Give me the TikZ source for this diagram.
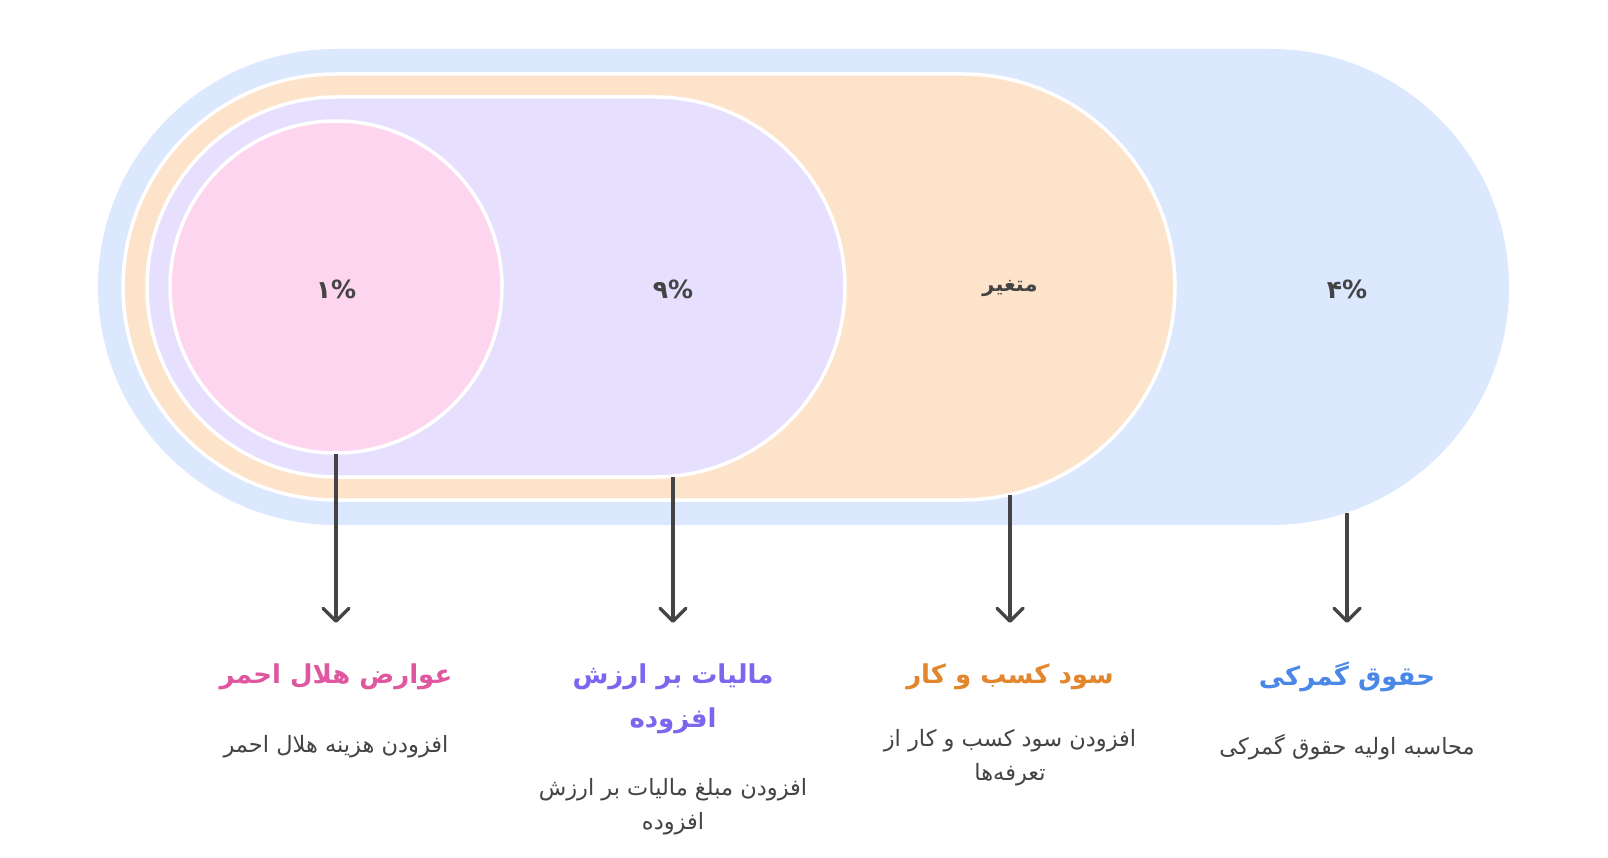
\documentclass[tikz,border=0pt]{standalone}
\usepackage{fontspec}
\usetikzlibrary{arrows.meta}
\TeXXeTstate=1
\newfontfamily\fa[Script=Arabic]{DejaVu Sans}
\definecolor{bluefill}{HTML}{DCE8FE}
\definecolor{orangefill}{HTML}{FEE3CB}
\definecolor{purplefill}{HTML}{E6DFFE}
\definecolor{pinkfill}{HTML}{FED5EE}
\definecolor{pinkT}{HTML}{E0579F}
\definecolor{purpleT}{HTML}{7B66EE}
\definecolor{orangeT}{HTML}{E3872E}
\definecolor{blueT}{HTML}{4A88E8}
\definecolor{darkT}{HTML}{444444}
\begin{document}
\begin{tikzpicture}[x=1pt,y=-1pt,
  shapeborder/.style={draw=white,line width=3.5pt},
  pct/.style={text=darkT,font=\fa\bfseries\fontsize{25}{30}\selectfont,inner sep=0pt},
  wordlbl/.style={text=darkT,font=\fa\bfseries\fontsize{21}{25}\selectfont,inner sep=0pt},
  ttl/.style={font=\fa\bfseries\fontsize{26}{44}\selectfont,align=center,inner sep=0pt},
  dsc/.style={text=darkT,font=\fa\fontsize{22.5}{34}\selectfont,align=center,inner sep=0pt},
  arr/.style={draw=darkT,line width=3.5pt,-{Straight Barb[length=13pt,width=26pt,line cap=round,line join=round]}}]
\useasboundingbox (0,0) rectangle (1608,858);
\fill[white] (0,0) rectangle (1608,858);
% nested shapes
\fill[bluefill,rounded corners=238pt] (98,49) rectangle (1509,525);
\filldraw[fill=orangefill,shapeborder,rounded corners=213pt] (123,74) rectangle (1175,500);
\filldraw[fill=purplefill,shapeborder,rounded corners=190pt] (147,97) rectangle (845,477);
\filldraw[fill=pinkfill,shapeborder] (336,287) circle[radius=166];
% percent labels
\node[pct] (p1) at (336,289) {۱\%};
\node[pct] (p2) at (673,289) {۹\%};
\node[wordlbl] (p3) at (1010,289) {\beginR متغیر\endR};
\node[pct] (p4) at (1347,289) {۴\%};
% arrow anchors
\coordinate (s1) at (336,454);
\coordinate (s2) at (673,477);
\coordinate (s3) at (1010,495);
\coordinate (s4) at (1347,513);
\coordinate (e1) at (336,623);
\coordinate (e2) at (673,623);
\coordinate (e3) at (1010,623);
\coordinate (e4) at (1347,623);
\draw[arr] (s1) -- (e1);
\draw[arr] (s2) -- (e2);
\draw[arr] (s3) -- (e3);
\draw[arr] (s4) -- (e4);
% titles
\node[ttl,text=pinkT] (t1) at (336,677) {\beginR عوارض هلال احمر\endR};
\node[ttl,text=purpleT] (t2) at (673,699) {\beginR مالیات بر ارزش\endR\\\beginR افزوده\endR};
\node[ttl,text=orangeT] (t3) at (1010,677) {\beginR سود کسب و کار\endR};
\node[ttl,text=blueT] (t4) at (1347,677) {\beginR حقوق گمرکی\endR};
% descriptions
\node[dsc] (d1) at (336,747) {\beginR افزودن هزینه هلال احمر\endR};
\node[dsc] (d2) at (673,807) {\beginR افزودن مبلغ مالیات بر ارزش\endR\\\beginR افزوده\endR};
\node[dsc] (d3) at (1010,758) {\beginR افزودن سود کسب و کار از\endR\\\beginR تعرفه‌ها\endR};
\node[dsc] (d4) at (1347,747) {\beginR محاسبه اولیه حقوق گمرکی\endR};
\end{tikzpicture}
\end{document}
